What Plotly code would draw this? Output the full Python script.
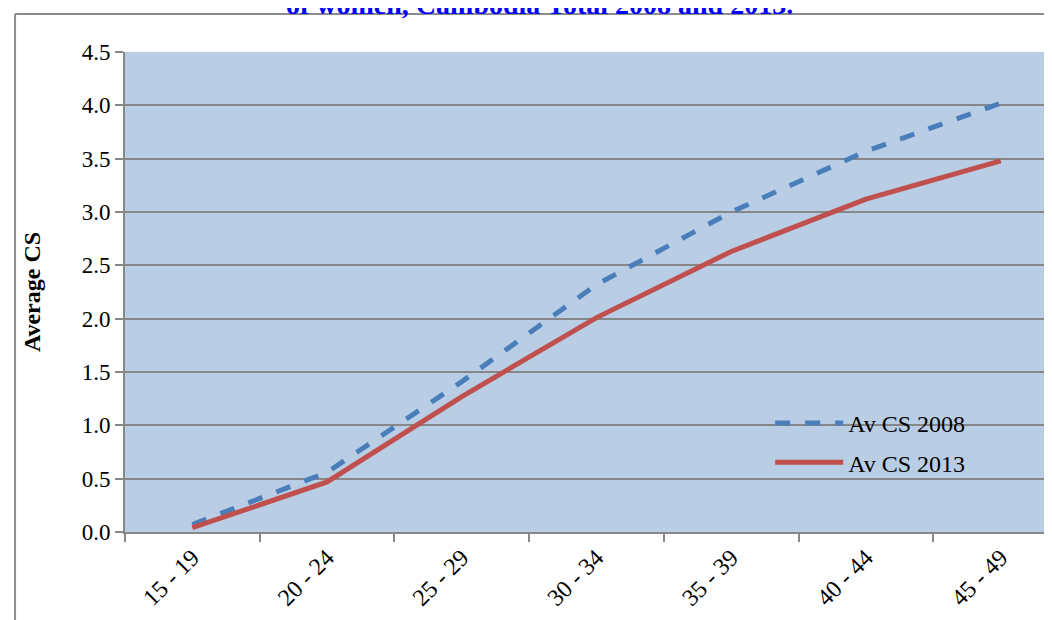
import plotly.graph_objects as go

# age groups and average children surviving
age_groups = ["15 - 19", "20 - 24", "25 - 29", "30 - 34", "35 - 39", "40 - 44", "45 - 49"]
av_cs_2008 = [0.07, 0.56, 1.41, 2.32, 3.0, 3.57, 4.02]
av_cs_2013 = [0.04, 0.47, 1.27, 2.01, 2.63, 3.12, 3.48]
y_ticks = [0.0, 0.5, 1.0, 1.5, 2.0, 2.5, 3.0, 3.5, 4.0, 4.5]

serif = "Liberation Serif, Times New Roman, serif"
grid_col = "#878787"

fig = go.Figure()

fig.add_trace(go.Scatter(
    x=age_groups, y=av_cs_2008, mode="lines", name="Av CS 2008", legendgroup="a",
    line=dict(color="#4a7ebb", width=5, dash="dash"),
))
fig.add_trace(go.Scatter(
    x=age_groups, y=av_cs_2013, mode="lines", name="Av CS 2013", legendgroup="b",
    line=dict(color="#c0504d", width=5),
))

fig.update_xaxes(
    type="category",
    range=[-0.5, 6.44],
    tickson="boundaries",
    ticks="outside", ticklen=8, tickcolor=grid_col, tickwidth=1.5,
    showline=True, linecolor=grid_col, linewidth=2,
    showgrid=False,
    tickangle=-45,
    tickfont=dict(family=serif, size=24, color="black"),
)

fig.update_yaxes(
    range=[0, 4.5],
    tickvals=y_ticks,
    ticktext=[f"{v:.1f}" for v in y_ticks],
    ticks="outside", ticklen=8, tickcolor=grid_col, tickwidth=1.5,
    showline=True, linecolor=grid_col, linewidth=2,
    showgrid=True, gridcolor=grid_col, gridwidth=2,
    zeroline=False,
    tickfont=dict(family=serif, size=23, color="black"),
    title=dict(text="<b>Average CS</b>", font=dict(family=serif, size=24, color="black"), standoff=34),
)

# title is cut off at the top of the page in the original
fig.add_annotation(
    text="<b>of women, Cambodia Total 2008 and 2013.</b>",
    xref="paper", yref="paper", x=0.443, y=1.099, xanchor="center", yanchor="middle",
    showarrow=False, font=dict(family=serif, size=28, color="#0000ff"),
)

# outer frame of the chart
bx, by = -0.1176, 1.079
fig.add_shape(type="line", xref="paper", yref="paper", x0=bx, x1=bx, y0=-0.3, y1=by,
              line=dict(color="#8c8c8c", width=2))
fig.add_shape(type="line", xref="paper", yref="paper", x0=bx, x1=1.05, y0=by, y1=by,
              line=dict(color="#8c8c8c", width=2))

fig.update_layout(
    width=1052, height=620,
    margin=dict(l=117, r=0, t=44, b=96),
    paper_bgcolor="white",
    plot_bgcolor="#b9cde5",
    legend=dict(
        x=0.69, y=0.273, xanchor="left", yanchor="top",
        bgcolor="rgba(0,0,0,0)",
        font=dict(family=serif, size=24, color="black"),
        itemwidth=68,
        tracegroupgap=5,
        traceorder="grouped",
    ),
)

fig.write_html("out.html")
